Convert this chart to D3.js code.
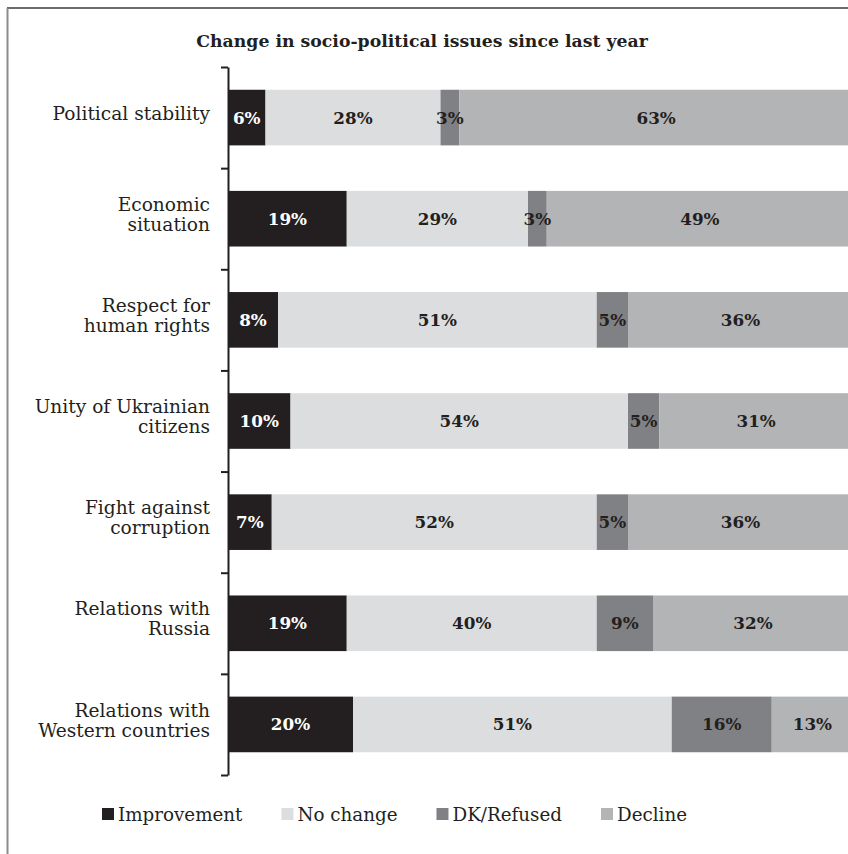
<!DOCTYPE html>
<html>
<head>
<meta charset="utf-8">
<script src="https://cdn.jsdelivr.net/npm/d3@7/dist/d3.min.js"></script>
<style>
  html, body { margin: 0; padding: 0; background: #fff; }
  svg { display: block; }
  text { font-family: "DejaVu Serif", "Liberation Serif", serif; fill: #231f20; }
</style>
</head>
<body>
<svg id="chart" width="848" height="854"></svg>
<script>
// Survey categories (line breaks mark wrapped labels)
const categories = [
  "Political stability",
  "Economic\nsituation",
  "Respect for\nhuman rights",
  "Unity of Ukrainian\ncitizens",
  "Fight against\ncorruption",
  "Relations with\nRussia",
  "Relations with\nWestern countries"
];

// Share of respondents, %
const improvement = [6, 19, 8, 10, 7, 19, 20];
const noChange    = [28, 29, 51, 54, 52, 40, 51];
const dkRefused   = [3, 3, 5, 5, 5, 9, 16];
const decline     = [63, 49, 36, 31, 36, 32, 13];

const seriesNames = ["Improvement", "No change", "DK/Refused", "Decline"];
const seriesValues = [improvement, noChange, dkRefused, decline];
const seriesColors = ["#231f20", "#dcdddf", "#808184", "#b3b4b6"];
const labelColors  = ["#ffffff", "#231f20", "#231f20", "#231f20"];

const chartTitle = "Change in socio-political issues since last year";

const svg = d3.select("#chart");

// Frame lines
svg.append("line").attr("x1", 7).attr("x2", 848).attr("y1", 8).attr("y2", 8)
  .attr("stroke", "#3a3a3a").attr("stroke-width", 1.5);
svg.append("line").attr("x1", 7.5).attr("x2", 7.5).attr("y1", 8).attr("y2", 854)
  .attr("stroke", "#8c8c8c").attr("stroke-width", 2);

// Title
svg.append("text")
  .attr("x", 422).attr("y", 47)
  .attr("text-anchor", "middle")
  .style("font-weight", "bold")
  .style("font-size", "17.3px")
  .text(chartTitle);

const plotTop = 67, plotBottom = 775, plotLeft = 228;

const x = d3.scaleLinear().domain([0, 100]).range([plotLeft, 853]);
const y = d3.scaleBand().domain(categories).range([plotTop, plotBottom])
  .paddingInner(0.45).paddingOuter(0.225);

// Stack rows
const rows = categories.map((c, i) => {
  const r = { category: c };
  seriesNames.forEach((s, k) => { r[s] = seriesValues[k][i]; });
  return r;
});
const stacked = d3.stack().keys(seriesNames)(rows);

const layers = svg.append("g").selectAll("g")
  .data(stacked).join("g")
  .attr("fill", (d, k) => seriesColors[k]);

layers.selectAll("rect")
  .data(d => d)
  .join("rect")
  .attr("x", d => x(d[0]))
  .attr("width", d => x(d[1]) - x(d[0]))
  .attr("y", d => y(d.data.category))
  .attr("height", y.bandwidth());

// Value labels
const labelLayers = svg.append("g").selectAll("g")
  .data(stacked).join("g");
labelLayers.each(function (layer, k) {
  d3.select(this).selectAll("text")
    .data(layer)
    .join("text")
    .attr("x", d => (x(d[0]) + x(d[1])) / 2)
    .attr("y", d => y(d.data.category) + y.bandwidth() / 2)
    .attr("dy", "0.36em")
    .attr("text-anchor", "middle")
    .style("font-weight", "bold")
    .style("font-size", "16.8px")
    .style("fill", labelColors[k])
    .text(d => (d[1] - d[0]) + "%");
});

// Axis with ticks on category boundaries
const boundary = d3.scaleLinear().domain([0, categories.length]).range([plotTop, plotBottom]);
const axis = svg.append("g")
  .attr("transform", `translate(${plotLeft},0)`)
  .call(d3.axisLeft(boundary)
    .tickValues(d3.range(categories.length + 1))
    .tickFormat("")
    .tickSize(7)
    .tickSizeOuter(0));
axis.selectAll("path, line").attr("stroke", "#231f20").attr("stroke-width", 2);

// Category labels
const lineH = 20;
svg.append("g").selectAll("text")
  .data(categories)
  .join("text")
  .attr("text-anchor", "end")
  .style("font-size", "18.6px")
  .each(function (c) {
    const lines = c.split("\n");
    const cy = y(c) + y.bandwidth() / 2 - 4;
    d3.select(this).selectAll("tspan")
      .data(lines)
      .join("tspan")
      .attr("x", 210)
      .attr("y", (l, i) => cy + (i - (lines.length - 1) / 2) * lineH)
      .attr("dy", "0.33em")
      .text(l => l);
  });

// Legend
const legend = svg.append("g");
let lx = 102;
seriesNames.forEach((name, k) => {
  legend.append("rect")
    .attr("x", lx).attr("y", 808)
    .attr("width", 12).attr("height", 12)
    .attr("fill", seriesColors[k]);
  const t = legend.append("text")
    .attr("x", lx + 16).attr("y", 821)
    .style("font-size", "18.3px")
    .text(name);
  lx += 16 + t.node().getComputedTextLength() + 39;
});
</script>
</body>
</html>
